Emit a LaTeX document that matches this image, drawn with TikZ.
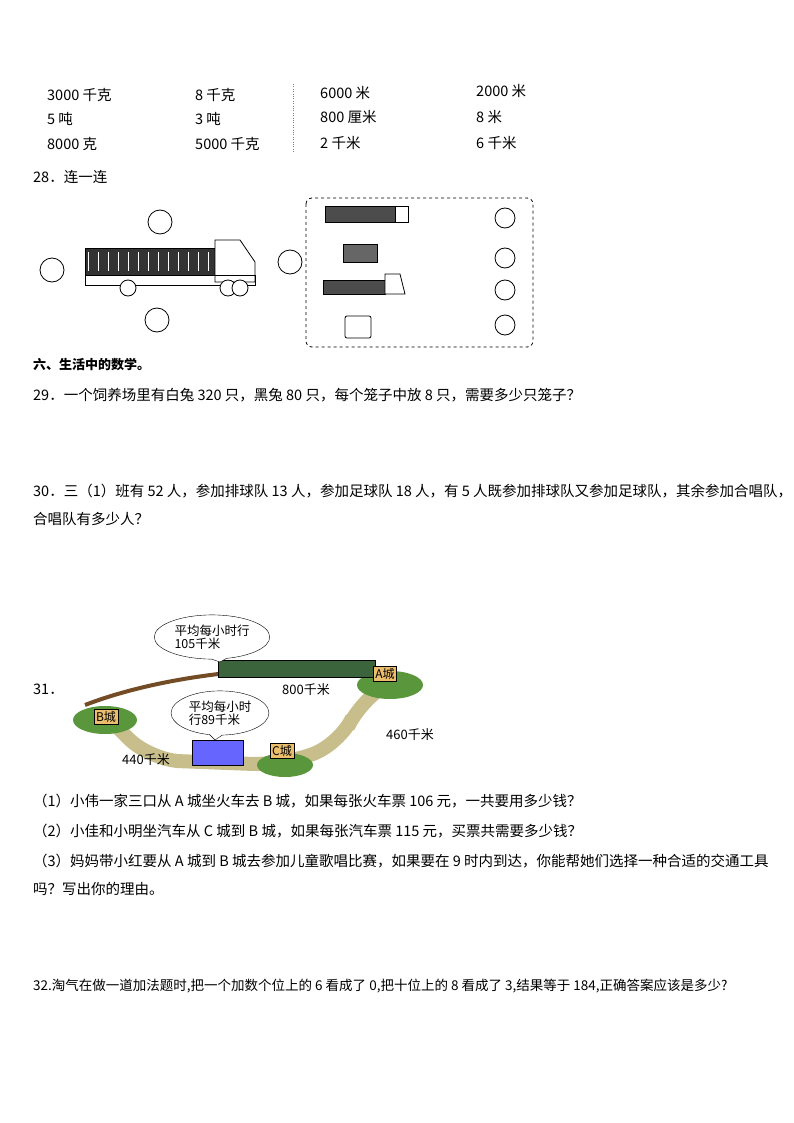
\documentclass[tikz,border=0pt]{standalone}
\usepackage{fontspec}
\setmainfont{Noto Sans CJK SC}
\usetikzlibrary{positioning,shapes.callouts}
\definecolor{roadc}{RGB}{200,190,140}
\definecolor{grassc}{RGB}{90,150,60}
\definecolor{trainc}{RGB}{60,100,60}
\definecolor{signc}{RGB}{235,190,110}

\begin{document}
\begin{tikzpicture}[x=1pt,y=-1pt,
        txt/.style={anchor=west, inner sep=0pt, font=\fontsize{14.5}{16}\selectfont},
        small/.style={anchor=west, inner sep=0pt, font=\fontsize{13}{14}\selectfont},
        kid/.style={circle, draw, thick, fill=white, minimum size=24pt},
        sign/.style={draw, fill=signc, inner sep=2pt, font=\fontsize{12}{13}\selectfont},
        bubble/.style={ellipse callout, draw, fill=white, align=left, font=\fontsize{12.5}{13}\selectfont},
]
        \useasboundingbox (0,0) rectangle (794,1123);

        % units table
        \node[txt] (a1) at (47,95) {3000 千克};
        \node[txt] (a2) at (47,119) {5 吨};
        \node[txt] (a3) at (47,144) {8000 克};
        \node[txt] (b1) at (195,95) {8 千克};
        \node[txt] (b2) at (195,119) {3 吨};
        \node[txt] (b3) at (195,144) {5000 千克};
        \node[txt] (c1) at (320,93) {6000 米};
        \node[txt] (c2) at (320,117) {800 厘米};
        \node[txt] (c3) at (320,143) {2 千米};
        \node[txt] (d1) at (476,91) {2000 米};
        \node[txt] (d2) at (476,117) {8 米};
        \node[txt] (d3) at (476,143) {6 千米};
        \draw[dotted, gray] (293,84) -- (293,152);

        \node[txt] (q28) at (33,177) {28．连一连};

        % truck and kids
        \draw[thick, fill=black!80] (85,248) rectangle (215,275);
        \foreach \i in {0,...,12}
            \draw[white] (88+\i*10,252) -- (88+\i*10,271);
        \draw[thick, fill=white] (215,240) -- (240,240) -- (255,262) -- (255,282) -- (215,282) -- cycle;
        \draw[thick] (85,275) rectangle (255,285);
        \foreach \x in {128,228,240}
            \draw[thick, fill=white] (\x,288) circle (8);
        \node[kid] (kleft) at (52,270) {};
        \node[kid] (ktop) at (160,222) {};
        \node[kid] (kright) at (290,262) {};
        \node[kid] (kbottom) at (157,320) {};

        % dashed box
        \draw[dashed, thick, rounded corners=6pt] (306,198) rectangle (533,347);
        \draw[thick, fill=black!70] (325,206) rectangle (395,222);
        \draw[thick, fill=white] (395,206) rectangle (408,222);
        \draw[thick, fill=black!60] (343,244) rectangle (377,262);
        \draw[thick, fill=black!70] (323,280) rectangle (385,294);
        \draw[thick, fill=white] (385,274) -- (400,274) -- (405,294) -- (385,294) -- cycle;
        \draw[thick, fill=white, rounded corners=2pt] (345,316) rectangle (371,338);
        \node[kid, minimum size=20pt] (k1) at (505,218) {};
        \node[kid, minimum size=20pt] (k2) at (505,258) {};
        \node[kid, minimum size=20pt] (k3) at (505,290) {};
        \node[kid, minimum size=20pt] (k4) at (505,325) {};

        \node[txt, font=\fontsize{13}{14}\selectfont\bfseries] (sec6) at (33,365) {六、生活中的数学。};
        \node[txt] (q29) at (33,395) {29．一个饲养场里有白兔 320 只，黑兔 80 只，每个笼子中放 8 只，需要多少只笼子？};
        \node[txt] (q30) at (33,491) {30．三（1）班有 52 人，参加排球队 13 人，参加足球队 18 人，有 5 人既参加排球队又参加足球队，其余参加合唱队，};
        \node[txt] (q30b) at (33,519) {合唱队有多少人？};

        % map
        \node[txt] (q31) at (33,689) {31．};
        \draw[roadc, line width=14pt, rounded corners=30pt] (105,715) -- (150,760) -- (280,765) -- (340,745) -- (360,700) -- (395,680);
        \draw[brown!60!black, line width=4pt] (85,705) .. controls (150,680) and (230,670) .. (300,668);
        \fill[grassc] (105,720) ellipse (32 and 14);
        \fill[grassc] (285,765) ellipse (28 and 12);
        \fill[grassc] (390,685) ellipse (33 and 14);
        \draw[thick, fill=trainc] (218,660) rectangle (375,677);
        \draw[thick, fill=blue!60] (192,740) rectangle (243,765);
        \node[sign] (cityA) at (385,674) {A城};
        \node[sign] (cityB) at (106,717) {B城};
        \node[sign] (cityC) at (282,751) {C城};
        \node[bubble, callout absolute pointer={(220,662)}] (bub1) at (212,637) {平均每小时行\\105千米};
        \node[bubble, callout absolute pointer={(215,740)}] (bub2) at (220,713) {平均每小时\\行89千米};
        \node[small] (d800) at (282,690) {800千米};
        \node[small] (d460) at (386,735) {460千米};
        \node[small] (d440) at (122,760) {440千米};

        \node[txt] (q31a) at (33,801) {（1）小伟一家三口从 A 城坐火车去 B 城，如果每张火车票 106 元，一共要用多少钱？};
        \node[txt] (q31b) at (33,831) {（2）小佳和小明坐汽车从 C 城到 B 城，如果每张汽车票 115 元，买票共需要多少钱？};
        \node[txt] (q31c) at (33,861) {（3）妈妈带小红要从 A 城到 B 城去参加儿童歌唱比赛，如果要在 9 时内到达，你能帮她们选择一种合适的交通工具};
        \node[txt] (q31d) at (33,889) {吗？写出你的理由。};
        \node[txt, font=\fontsize{13.5}{15}\selectfont] (q32) at (33,986) {32.淘气在做一道加法题时,把一个加数个位上的 6 看成了 0,把十位上的 8 看成了 3,结果等于 184,正确答案应该是多少?};
\end{tikzpicture}
\end{document}
